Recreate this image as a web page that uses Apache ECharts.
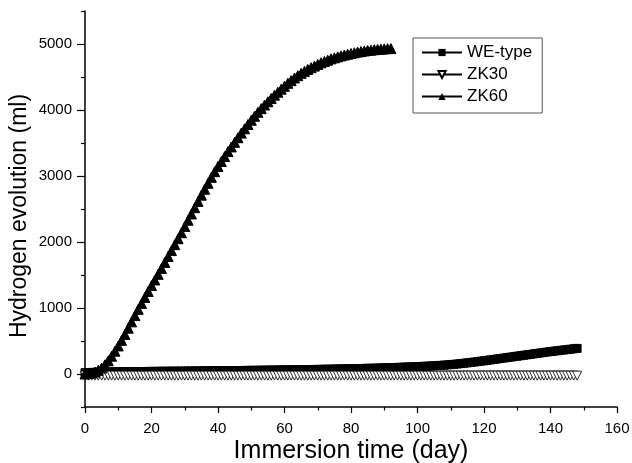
<!DOCTYPE html>
<html>
<head>
<meta charset="utf-8">
<script src="https://cdn.jsdelivr.net/npm/echarts@6/dist/echarts.min.js"></script>
<style>
  html, body { margin: 0; padding: 0; background: #fff; }
  #chart { width: 632px; height: 463px; }
</style>
</head>
<body>
<div id="chart"></div>
<script>
// Cumulative hydrogen evolution (ml), one reading per day starting at day 0
const seriesNames = ['WE-type', 'ZK30', 'ZK60'];

const weType = [
  20, 22, 24, 26, 28, 29, 30, 31, 32, 33,
  34, 34, 35, 35, 36, 36, 37, 37, 38, 39,
  40, 40, 41, 41, 42, 42, 43, 43, 44, 44,
  45, 45, 46, 46, 47, 47, 48, 48, 49, 49,
  50, 50, 51, 51, 52, 52, 53, 53, 54, 55,
  56, 56, 57, 58, 58, 59, 60, 60, 61, 62,
  62, 63, 64, 65, 65, 66, 67, 68, 68, 69,
  70, 71, 72, 73, 74, 75, 76, 77, 78, 79,
  80, 81, 82, 83, 85, 86, 87, 89, 90, 92,
  93, 95, 96, 98, 100, 102, 104, 106, 108, 110,
  112, 114, 117, 119, 122, 125, 128, 131, 134, 138,
  142, 147, 152, 157, 163, 169, 175, 181, 187, 194,
  200, 207, 214, 221, 228, 235, 242, 249, 256, 263,
  270, 277, 284, 291, 298, 305, 312, 319, 326, 333,
  340, 346, 352, 358, 364, 370, 376, 382, 388
];

const zk30 = [
  -25, -25, -25, -25, -25, -25, -25, -25, -25, -25,
  -25, -25, -25, -25, -25, -25, -25, -25, -25, -25,
  -25, -25, -25, -25, -25, -25, -25, -25, -25, -25,
  -25, -25, -25, -25, -25, -25, -25, -25, -25, -25,
  -25, -25, -25, -25, -25, -25, -25, -25, -25, -25,
  -25, -25, -25, -25, -25, -25, -25, -25, -25, -25,
  -25, -25, -25, -25, -25, -25, -25, -25, -25, -25,
  -25, -25, -25, -25, -25, -25, -25, -25, -25, -25,
  -25, -25, -25, -25, -25, -25, -25, -25, -25, -25,
  -25, -25, -25, -25, -25, -25, -25, -25, -25, -25,
  -25, -25, -25, -25, -25, -25, -25, -25, -25, -25,
  -25, -25, -25, -25, -25, -25, -25, -25, -25, -25,
  -25, -25, -25, -25, -25, -25, -25, -25, -25, -25,
  -25, -25, -25, -25, -25, -25, -25, -25, -25, -25,
  -25, -25, -25, -25, -25, -25, -25, -25, -25
];

const zk60 = [
  0, 5, 15, 30, 55, 90, 140, 200, 270, 345,
  425, 510, 600, 695, 790, 885, 980, 1070, 1160, 1250,
  1340, 1425, 1510, 1600, 1690, 1780, 1870, 1960, 2050, 2140,
  2235, 2330, 2425, 2520, 2615, 2710, 2800, 2890, 2980, 3065,
  3145, 3220, 3295, 3370, 3440, 3510, 3580, 3650, 3715, 3780,
  3845, 3905, 3965, 4020, 4075, 4125, 4175, 4225, 4270, 4315,
  4360, 4405, 4445, 4485, 4520, 4555, 4585, 4615, 4640, 4665,
  4690, 4715, 4735, 4755, 4775, 4790, 4805, 4820, 4833, 4845,
  4857, 4867, 4877, 4886, 4894, 4901, 4907, 4913, 4918, 4922,
  4926, 4929, 4931
];

// Axis ticks
const yMajorTicks = [0, 1000, 2000, 3000, 4000, 5000];
const yMinorTicks = [-500, 500, 1500, 2500, 3500, 4500, 5500];
const xTickStep = 20;

const FONT = 'Liberation Sans, Arial, Helvetica, sans-serif';

// pair each reading with its day number
const byDay = (vals) => vals.map((v, day) => [day, v]);

const chart = echarts.init(document.getElementById('chart'), null, { renderer: 'canvas' });

const baseSeries = {
  type: 'line',
  showSymbol: true,
  lineStyle: { color: '#000', width: 1 },
  itemStyle: { color: '#000', borderColor: '#000' },
  emphasis: { disabled: true },
  animation: false,
  clip: false
};

chart.setOption({
  animation: false,
  backgroundColor: '#fff',
  textStyle: { fontFamily: FONT, color: '#000' },
  grid: { left: 85, right: 15, top: 11, bottom: 56, containLabel: false, outerBoundsMode: 'none' },
  legend: {
    left: 413,
    top: 38,
    orient: 'vertical',
    data: seriesNames,
    itemWidth: 40,
    itemHeight: 9,
    itemGap: 5,
    padding: [6, 10, 8, 8],
    borderColor: '#555',
    borderWidth: 1,
    textStyle: { fontFamily: FONT, fontSize: 17, color: '#000' },
    inactiveColor: '#000'
  },
  xAxis: {
    type: 'value',
    min: 0,
    max: 160,
    interval: xTickStep,
    name: 'Immersion time (day)',
    nameLocation: 'middle',
    nameGap: 32,
    nameMoveOverlap: false,
    nameTextStyle: { fontFamily: FONT, fontSize: 25, color: '#000' },
    axisLine: { show: true, onZero: false, lineStyle: { color: '#000', width: 1.5 } },
    axisTick: { show: true, inside: false, length: 6, lineStyle: { color: '#000', width: 1.2 } },
    minorTick: { show: true, splitNumber: 2, length: 3.5, lineStyle: { color: '#000', width: 1.2 } },
    axisLabel: { fontFamily: FONT, fontSize: 15, color: '#000', margin: 14 },
    splitLine: { show: false }
  },
  yAxis: [
    {
      type: 'value',
      min: -500,
      max: 5500,
      name: 'Hydrogen evolution (ml)',
      nameLocation: 'middle',
      nameGap: 54,
      nameMoveOverlap: false,
      nameTextStyle: { fontFamily: FONT, fontSize: 23, color: '#000', padding: [0, 14, 0, 0] },
      axisLine: { show: true, onZero: false, lineStyle: { color: '#000', width: 1.5 } },
      axisTick: { show: true, inside: false, length: 8, customValues: yMajorTicks, lineStyle: { color: '#000', width: 1.2 } },
      axisLabel: { fontFamily: FONT, fontSize: 15, color: '#000', margin: 13, customValues: yMajorTicks, formatter: (v) => String(v) },
      splitLine: { show: false }
    },
    {
      type: 'value',
      min: -500,
      max: 5500,
      position: 'left',
      offset: 0,
      axisLine: { show: false },
      axisTick: { show: true, inside: false, length: 4, customValues: yMinorTicks, lineStyle: { color: '#000', width: 1.2 } },
      axisLabel: { show: false },
      splitLine: { show: false }
    }
  ],
  series: [
    Object.assign({}, baseSeries, {
      name: seriesNames[0],
      symbol: 'rect',
      symbolSize: 8,
      data: byDay(weType),
      z: 2
    }),
    Object.assign({}, baseSeries, {
      name: seriesNames[1],
      symbol: 'triangle',
      symbolRotate: 180,
      symbolSize: [9, 9],
      itemStyle: { color: '#fff', borderColor: '#000', borderWidth: 0.8 },
      data: byDay(zk30),
      z: 3
    }),
    Object.assign({}, baseSeries, {
      name: seriesNames[2],
      symbol: 'triangle',
      symbolSize: 10,
      data: byDay(zk60),
      z: 4
    })
  ]
});
</script>
</body>
</html>
